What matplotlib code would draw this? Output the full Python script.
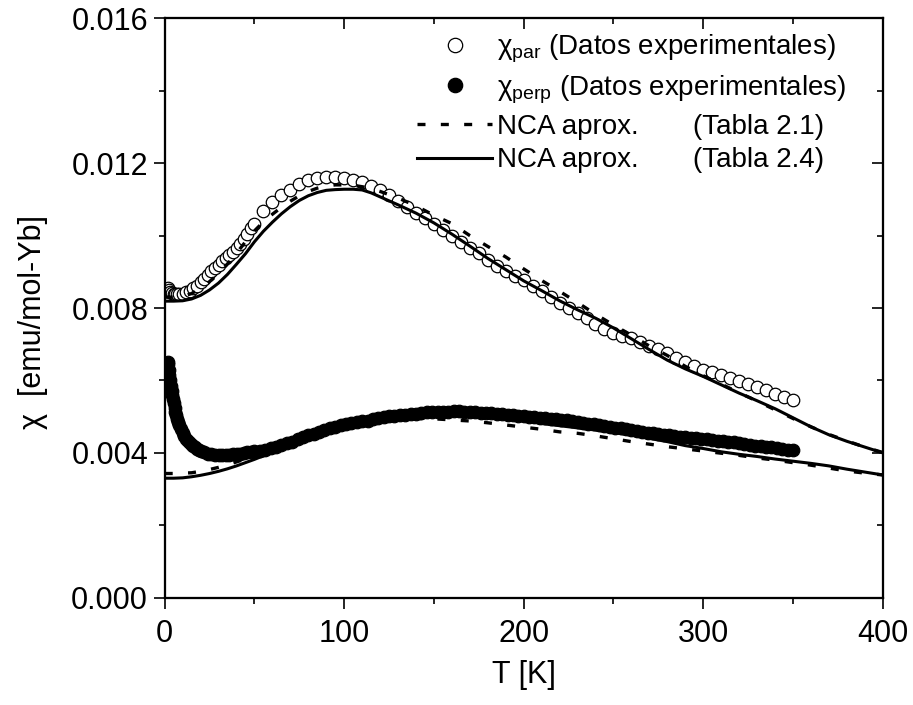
import matplotlib
matplotlib.use("Agg")
import matplotlib.pyplot as plt
from matplotlib.ticker import MultipleLocator

plt.rcParams['font.family'] = ['Liberation Sans', 'DejaVu Sans']
plt.rcParams['mathtext.fontset'] = 'custom'
plt.rcParams['mathtext.rm'] = 'Liberation Sans'

# chi_par experimental (open circles)
par_T = [2, 2.5, 3, 4, 5, 6, 7, 8, 10, 12, 14, 16, 18, 20, 22, 24, 26, 28, 30, 32, 34, 36, 38, 40,
         42, 44, 46, 48, 50, 55, 60, 65, 70, 75, 80, 85, 90, 95, 100, 105, 110, 115, 120, 125,
         130, 135, 140, 145, 150, 155, 160, 165, 170, 175, 180, 185, 190, 195, 200, 205, 210,
         215, 220, 225, 230, 235, 240, 245, 250, 255, 260, 265, 270, 275, 280, 285, 290, 295,
         300, 305, 310, 315, 320, 325, 330, 335, 340, 345, 350]
par_chi = [0.00855, 0.0085, 0.00845, 0.00842, 0.0084, 0.0084, 0.0084, 0.0084, 0.0084, 0.00843,
           0.00848, 0.00855, 0.00862, 0.00871, 0.0088, 0.0089, 0.00901, 0.0091, 0.0092, 0.00929,
           0.00938, 0.00946, 0.00955, 0.00966, 0.00978, 0.0099, 0.01005, 0.0102, 0.01032, 0.01068,
           0.01092, 0.01112, 0.01127, 0.01143, 0.01153, 0.0116, 0.01163, 0.01162, 0.01158, 0.01153,
           0.01147, 0.01137, 0.01126, 0.01111, 0.01096, 0.01079, 0.01062, 0.01048, 0.01033, 0.01015,
           0.00999, 0.00983, 0.00966, 0.00952, 0.00933, 0.00917, 0.00902, 0.00888, 0.00876, 0.00862,
           0.00846, 0.00831, 0.00815, 0.00801, 0.00787, 0.00772, 0.00756, 0.00742, 0.00731, 0.00724,
           0.00718, 0.00706, 0.00696, 0.00686, 0.00675, 0.00662, 0.00651, 0.0064, 0.0063, 0.00622,
           0.00615, 0.00608, 0.00599, 0.0059, 0.00582, 0.00574, 0.00563, 0.00555, 0.00546]

# chi_perp experimental (filled circles)
perp_T = [1.8, 2, 2.3, 2.6, 3, 3.4, 3.8, 4.2, 4.6, 5, 5.5, 6, 6.5, 7, 7.5, 8, 9, 10, 11, 12, 13,
          14, 15, 16, 17, 18, 19, 20, 22, 24, 26, 28, 30, 32, 34, 36, 38, 40, 42, 44, 46, 48, 50,
          53, 56, 59, 62, 65, 68, 71, 74, 77, 80, 83, 86, 89, 92, 95, 98, 101, 104, 107, 110, 113,
          116, 119, 122, 125, 128, 131, 134, 137, 140, 143, 146, 149, 152, 155, 158, 161, 164, 167,
          170, 173, 176, 179, 182, 185, 188, 191, 194, 197, 200, 203, 206, 209, 212, 215, 218, 221,
          224, 227, 230, 233, 236, 239, 242, 245, 248, 251, 254, 257, 260, 263, 266, 269, 272, 275,
          278, 281, 284, 287, 290, 293, 296, 299, 302, 305, 308, 311, 314, 317, 320, 323, 326, 329,
          332, 335, 338, 341, 344, 347, 350]
perp_chi = [0.0065, 0.00645, 0.0063, 0.00615, 0.006, 0.00585, 0.00572, 0.0056, 0.00548, 0.00538,
            0.00525, 0.00514, 0.00504, 0.00494, 0.00486, 0.00478, 0.00466, 0.00456, 0.00446, 0.00439,
            0.00433, 0.00428, 0.00423, 0.00419, 0.00415, 0.00411, 0.00408, 0.00405, 0.00401, 0.00398,
            0.00396, 0.00395, 0.00394, 0.00394, 0.00394, 0.00395, 0.00396, 0.00397, 0.00398, 0.004,
            0.00401, 0.00402, 0.00404, 0.00406, 0.00409, 0.00413, 0.00417, 0.00421, 0.00426, 0.00431,
            0.00437, 0.00443, 0.00448, 0.00453, 0.00458, 0.00463, 0.00468, 0.00472, 0.00476, 0.00479,
            0.00482, 0.00485, 0.00487, 0.00489, 0.00493, 0.00497, 0.005, 0.00502, 0.00503, 0.00504,
            0.00505, 0.00506, 0.00508, 0.0051, 0.00512, 0.00513, 0.00514, 0.00514, 0.00514, 0.00515,
            0.00515, 0.00514, 0.00513, 0.00512, 0.00511, 0.0051, 0.00509, 0.00508, 0.00506, 0.00505,
            0.00504, 0.00503, 0.00502, 0.005, 0.00499, 0.00497, 0.00495, 0.00494, 0.00493, 0.00492,
            0.00491, 0.00489, 0.00486, 0.00483, 0.00481, 0.00479, 0.00477, 0.00475, 0.00472, 0.0047,
            0.00468, 0.00466, 0.00464, 0.00461, 0.00458, 0.00456, 0.00454, 0.00452, 0.0045, 0.00448,
            0.00446, 0.00444, 0.00443, 0.00441, 0.0044, 0.00439, 0.00438, 0.00436, 0.00434, 0.00432,
            0.00431, 0.00429, 0.00427, 0.00425, 0.00422, 0.0042, 0.00418, 0.00417, 0.00415, 0.00413,
            0.00411, 0.00409, 0.00408]

# NCA curves, Tabla 2.1 (dashed) and Tabla 2.4 (solid)
nca_T = [0, 5, 10, 15, 20, 25, 30, 35, 40, 45, 50, 55, 60, 65, 70, 75, 80, 85, 90, 95, 100, 105,
         110, 115, 120, 130, 140, 150, 160, 170, 180, 190, 200, 210, 220, 230, 240, 250, 260, 270,
         280, 290, 300, 310, 320, 330, 340, 350, 360, 370, 380, 390, 400]
par_t21 = [0.0083, 0.0083, 0.00832, 0.0084, 0.00855, 0.00873, 0.00895, 0.00922, 0.00951, 0.00983,
           0.01013, 0.01038, 0.01059, 0.01078, 0.01095, 0.0111, 0.01122, 0.01131, 0.01137, 0.0114,
           0.0114, 0.01139, 0.01135, 0.0113, 0.01122, 0.01104, 0.01082, 0.01056, 0.01033, 0.01,
           0.0097, 0.00941, 0.00908, 0.00876, 0.00846, 0.00815, 0.00783, 0.00753, 0.00725, 0.00695,
           0.00669, 0.00639, 0.00613, 0.0059, 0.00566, 0.00543, 0.00519, 0.00495, 0.00472, 0.00451,
           0.00433, 0.00416, 0.00401]
par_t24 = [0.00819, 0.00819, 0.0082, 0.00825, 0.00835, 0.0085, 0.00869, 0.00893, 0.00921, 0.0095,
           0.00983, 0.01012, 0.01037, 0.0106, 0.0108, 0.01097, 0.0111, 0.01119, 0.01125, 0.01127,
           0.01128, 0.01128, 0.01126, 0.01118, 0.01107, 0.01085, 0.01062, 0.01035, 0.01004, 0.00971,
           0.00937, 0.00906, 0.00875, 0.00848, 0.0082, 0.00795, 0.00772, 0.00745, 0.00715, 0.00685,
           0.00656, 0.00632, 0.00611, 0.00588, 0.00565, 0.00544, 0.00522, 0.00497, 0.00472, 0.0045,
           0.00432, 0.00416, 0.004]
perp_t21 = [0.00343, 0.00343, 0.00344, 0.00345, 0.00349, 0.00354, 0.0036, 0.00367, 0.00375, 0.00383,
            0.00392, 0.004, 0.00408, 0.00416, 0.00424, 0.00432, 0.00439, 0.00446, 0.00453, 0.0046,
            0.00466, 0.00472, 0.00477, 0.00482, 0.00486, 0.00492, 0.00495, 0.00494, 0.00491, 0.00488,
            0.00483, 0.00477, 0.00471, 0.00465, 0.00458, 0.00454, 0.00447, 0.00439, 0.00431, 0.00424,
            0.00417, 0.00411, 0.00405, 0.00399, 0.00393, 0.00386, 0.0038, 0.00373, 0.00366, 0.00358,
            0.0035, 0.00344, 0.00339]
perp_t24 = [0.0033, 0.0033, 0.00331, 0.00334, 0.00338, 0.00343, 0.00349, 0.00356, 0.00364, 0.00373,
            0.00382, 0.00392, 0.00401, 0.00413, 0.00422, 0.00431, 0.0044, 0.00449, 0.00457, 0.00465,
            0.00473, 0.00479, 0.00485, 0.00489, 0.00494, 0.005, 0.00504, 0.00505, 0.00505, 0.00503,
            0.005, 0.00496, 0.0049, 0.00481, 0.00475, 0.00469, 0.00463, 0.00456, 0.00449, 0.0044,
            0.00431, 0.0042, 0.00412, 0.00403, 0.00396, 0.0039, 0.00383, 0.00377, 0.00371, 0.00364,
            0.00355, 0.00347, 0.00339]

fig = plt.figure(figsize=(9.13, 7.05), dpi=100)
ax = fig.add_axes([0.1804, 0.1522, 0.7864, 0.8218])

ms = 9
ax.plot(par_T, par_chi, 'o', ms=ms, mfc='white', mec='black', mew=0.9,
        label='χ$_\\mathregular{par}$ (Datos experimentales)', zorder=2)
ax.plot(perp_T, perp_chi, 'o', ms=ms, mfc='black', mec='black', mew=0.9,
        label='χ$_\\mathregular{perp}$ (Datos experimentales)', zorder=2)
ax.plot(nca_T, par_t21, color='black', lw=2.4, dashes=(2.4, 4.6),
        label='NCA aprox.       (Tabla 2.1)', zorder=3)
ax.plot(nca_T, perp_t21, color='black', lw=2.4, dashes=(2.4, 4.6), zorder=3)
ax.plot(nca_T, par_t24, color='black', lw=2.2,
        label='NCA aprox.       (Tabla 2.4)', zorder=3)
ax.plot(nca_T, perp_t24, color='black', lw=2.2, zorder=3)

ax.set_xlim(0, 400)
ax.set_ylim(0, 0.016)
ax.xaxis.set_major_locator(MultipleLocator(100))
ax.xaxis.set_minor_locator(MultipleLocator(50))
ax.yaxis.set_major_locator(MultipleLocator(0.004))
ax.yaxis.set_minor_locator(MultipleLocator(0.002))
ax.yaxis.set_major_formatter(matplotlib.ticker.FormatStrFormatter('%.3f'))
ax.tick_params(which='major', direction='out', length=8, width=1.2, labelsize=22, pad=4)
ax.tick_params(axis='x', which='major', pad=7)
ax.tick_params(which='minor', direction='out', length=4.5, width=1.2)
for s in ax.spines.values():
    s.set_linewidth(1.5)

# top and right ticks point inwards
axt = ax.twiny()
axt.set_xlim(ax.get_xlim())
axt.xaxis.set_major_locator(MultipleLocator(100))
axt.xaxis.set_minor_locator(MultipleLocator(50))
axt.tick_params(which='major', direction='in', length=8, width=1.2, labeltop=False)
axt.tick_params(which='minor', direction='in', length=4.5, width=1.2)
axr = ax.twinx()
axr.set_ylim(ax.get_ylim())
axr.yaxis.set_major_locator(MultipleLocator(0.004))
axr.yaxis.set_minor_locator(MultipleLocator(0.002))
axr.tick_params(which='major', direction='in', length=8, width=1.2, labelright=False)
axr.tick_params(which='minor', direction='in', length=4.5, width=1.2)
for a in (axt, axr):
    for s in a.spines.values():
        s.set_linewidth(1.5)

ax.set_xlabel('T [K]', fontsize=22, labelpad=8)
ax.set_ylabel('χ  [emu/mol-Yb]', fontsize=22)
ax.yaxis.set_label_coords(-0.162, 0.476)

leg = ax.legend(loc='upper left', bbox_to_anchor=(0.352, 0.975), frameon=False, fontsize=20,
                handlelength=2.7, handletextpad=0.15, labelspacing=0.28, borderpad=0,
                borderaxespad=0, markerscale=1.15)

fig.savefig('out.png', dpi=100)
